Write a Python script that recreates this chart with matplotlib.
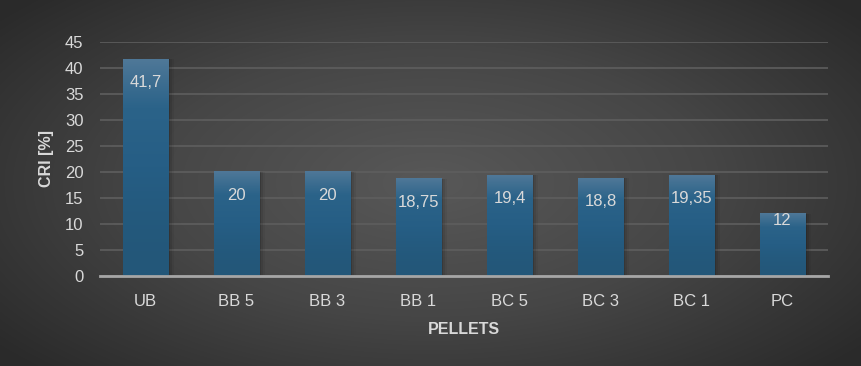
import matplotlib
matplotlib.use('Agg')
import matplotlib.pyplot as plt
import numpy as np
from matplotlib.colors import LinearSegmentedColormap

# chart data
categories = ["UB", "BB 5", "BB 3", "BB 1", "BC 5", "BC 3", "BC 1", "PC"]
cri_values = [41.7, 20, 20, 18.75, 19.4, 18.8, 19.35, 12]
value_labels = ["41,7", "20", "20", "18,75", "19,4", "18,8", "19,35", "12"]
y_ticks = [0, 5, 10, 15, 20, 25, 30, 35, 40, 45]

plt.rcParams['font.family'] = ['Liberation Sans', 'DejaVu Sans']
text_color = '#d9d9d9'

fig = plt.figure(figsize=(8.61, 3.66), dpi=100)

# radial gradient background
bg = fig.add_axes([0, 0, 1, 1], zorder=-10)
yy, xx = np.mgrid[-1:1:366j, -1:1:861j]
r = np.sqrt((xx * 0.85) ** 2 + (yy * 0.75) ** 2)
bg_cmap = LinearSegmentedColormap.from_list('bg', ['#585858', '#464646', '#2a2a2a'])
bg.imshow(r, cmap=bg_cmap, aspect='auto', vmin=0, vmax=1.1, extent=[0, 1, 0, 1])
bg.axis('off')

ax = fig.add_axes([100 / 861, 1 - 276 / 366, 728 / 861, 234 / 366])
ax.patch.set_alpha(0)

x = np.arange(len(categories))
bar_w = 0.5
bars = ax.bar(x, cri_values, width=bar_w, color='none', zorder=3)

# gradient fill inside each bar, plus a soft shadow
bar_cmap = LinearSegmentedColormap.from_list('bar', ['#235779', '#265e85', '#2b6389', '#4f7898'])
grad = np.linspace(0, 1, 256).reshape(-1, 1) ** 1.6
for b in bars:
    x0, w, h = b.get_x(), b.get_width(), b.get_height()
    for k, a in enumerate([0.12, 0.08, 0.05]):
        ax.bar(x0 + w / 2 + 0.02 * (k + 1), h, width=w, bottom=0,
               color='black', alpha=a, zorder=2, linewidth=0)
    ax.imshow(grad, cmap=bar_cmap, aspect='auto', origin='lower',
              extent=[x0, x0 + w, 0, h], zorder=3, vmin=0, vmax=1)

for i, (v, lab) in enumerate(zip(cri_values, value_labels)):
    off = -17 if v > 15 else -5
    ax.annotate(lab, (x[i], v), xytext=(0, off), textcoords='offset points',
                ha='center', va='center', color=text_color, fontsize=12,
                zorder=5)

ax.set_xlim(-0.5, len(categories) - 0.5)
ax.set_ylim(0, 45)
ax.set_yticks(y_ticks)
ax.set_xticks(x)
ax.set_xticklabels(categories)
ax.tick_params(axis='both', length=0, colors=text_color, labelsize=12)
ax.tick_params(axis='x', pad=13)
ax.tick_params(axis='y', pad=12)
ax.grid(axis='y', color='#5e5e5e', linewidth=1.2, zorder=0)
ax.set_axisbelow(True)
for side in ['top', 'right', 'left']:
    ax.spines[side].set_visible(False)
ax.spines['bottom'].set_color('#a6a6a6')
ax.spines['bottom'].set_linewidth(2)
ax.spines['bottom'].set_zorder(4)

ax.set_xlabel('PELLETS', color=text_color, fontsize=11.5, fontweight='bold', labelpad=9)
ax.set_ylabel('CRI [%]', color=text_color, fontsize=11.5, fontweight='bold', labelpad=8)

fig.savefig('out.png', dpi=100)
